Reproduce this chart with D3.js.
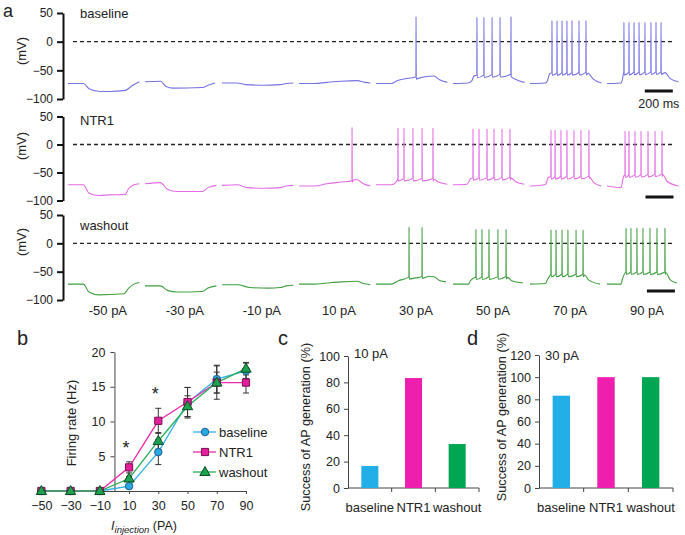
<!DOCTYPE html>
<html><head><meta charset="utf-8">
<script src="https://cdn.jsdelivr.net/npm/d3@7"></script>
<style>
body{margin:0;background:#fff}
text{font-family:"Liberation Sans",Arial,sans-serif;fill:#222}
</style>
</head><body>
<svg id="fig" width="685" height="535"></svg>
<script>
// ---------------- DATA ----------------
const sweepLabels = ["-50 pA","-30 pA","-10 pA","10 pA","30 pA","50 pA","70 pA","90 pA"];
const conditionNames = ["baseline","NTR1","washout"];
const traceColors = ["#7572e4","#e46ce6","#3f9f3f"];
const mvTicks = [50,0,-50,-100];

// subthreshold key points per sweep: [time ms, mV]
const baselineSub = [
 [[0,-73],[110,-73],[150,-82],[230,-87],[300,-87],[410,-85],[457,-77],[510,-70]],
 [[0,-70],[110,-69],[150,-78],[200,-81],[410,-80],[450,-76],[500,-72]],
 [[0,-72],[110,-72],[170,-75],[300,-76],[415,-75],[460,-73],[510,-72]],
 [[0,-73],[110,-73],[200,-71],[300,-69],[415,-68],[470,-71],[510,-72]],
 [[0,-73],[110,-73],[150,-68],[200,-65],[280,-62],[300,-64],[415,-60],[450,-66],[510,-71]],
 [[0,-73],[110,-72],[135,-68],[150,-60],[415,-58],[450,-66],[510,-71]],
 [[0,-73],[110,-72],[125,-68],[140,-56],[415,-55],[450,-65],[510,-72]],
 [[0,-73],[100,-72],[110,-66],[118,-55],[415,-54],[450,-64],[510,-70]]
];
const baselineSpikes = [[],[],[],[],[286],[171,221,279,336,414],[157,193,229,264,300,350,400],[121,157,193,229,271,314,350,386]];
const baselinePeaks = [0,0,0,0,44,43,37,34];

const ntr1Sub = [
 [[0,-72],[110,-72],[150,-87],[220,-91],[300,-90],[410,-89],[430,-80],[470,-72],[510,-70]],
 [[0,-70],[110,-68],[160,-80],[230,-84],[410,-84],[450,-77],[510,-73]],
 [[0,-73],[110,-72],[180,-77],[300,-78],[415,-77],[460,-74],[510,-73]],
 [[0,-74],[110,-74],[200,-70],[300,-67],[375,-65],[390,-63],[415,-63],[460,-70],[510,-74]],
 [[0,-72],[110,-72],[140,-68],[155,-62],[415,-62],[445,-67],[510,-71]],
 [[0,-72],[100,-71],[125,-61],[415,-60],[450,-67],[510,-71]],
 [[0,-74],[110,-72],[130,-59],[425,-58],[455,-68],[510,-74]],
 [[0,-74],[100,-77],[120,-56],[400,-54],[430,-66],[510,-74]]
];
const ntr1Spikes = [[],[],[],[379],[157,200,264,329,407],[143,186,243,293,350,407],[150,179,221,264,314,364,421],[129,157,200,243,293,343,393]];
const ntr1Peaks = [0,0,0,31,30,28,26,24];

const washoutSub = [
 [[0,-72],[110,-72],[150,-86],[220,-91],[400,-89],[430,-80],[470,-72],[510,-69]],
 [[0,-75],[110,-75],[160,-83],[230,-86],[410,-85],[450,-79],[510,-75]],
 [[0,-73],[110,-73],[200,-78],[330,-79],[415,-78],[460,-75],[510,-74]],
 [[0,-72],[110,-72],[200,-70],[300,-68],[415,-67],[460,-71],[510,-73]],
 [[0,-72],[110,-72],[160,-66],[230,-60],[280,-61],[325,-59],[380,-58],[415,-59],[450,-65],[500,-68]],
 [[0,-72],[110,-72],[125,-66],[150,-61],[390,-60],[420,-66],[500,-70]],
 [[0,-72],[110,-71],[125,-64],[145,-56],[390,-56],[420,-65],[500,-72]],
 [[0,-72],[100,-72],[110,-63],[130,-52],[421,-52],[450,-64],[500,-70]]
];
const washoutSpikes = [[],[],[],[],[236,329],[164,207,257,321,379],[150,186,229,271,329,379],[136,171,214,257,307,357,414]];
const washoutPeaks = [0,0,0,0,29,25,24,27];

// panel b
const injection = [-50,-30,-10,10,30,50,70,90];
const rateBaseline = [0,0,0,0.7,5.6,12.7,16.1,17.3];
const rateNTR1 = [0,0,0,3.4,10.1,12.8,15.6,15.6];
const rateWashout = [0,0,0,1.8,7.2,12.2,15.6,17.6];
const errBaseline = [0,0,0,0.3,1.8,2.2,2.0,1.1];
const errNTR1 = [0,0,0,0.8,1.8,2.1,2.4,1.5];
const errWashout = [0,0,0,0.3,1.2,1.5,1.5,0.9];
const rateTicks = [5,10,15,20];
const starAt = [10,30];

// panels c, d
const barCategories = ["baseline","NTR1","washout"];
const success10pA = [16.7,83.3,33.3];
const success30pA = [83.3,100,100];
const ticksC = [0,20,40,60,80,100];
const ticksD = [0,20,40,60,80,100,120];

// ---------------- DRAW ----------------
const svg = d3.select("#fig");
const FONT = '"Liberation Sans",Arial,sans-serif';

// ===== panel a =====
const sweepMs = 550;
const xT = d3.scaleLinear().domain([0, sweepMs*8]).range([68, 684]);
const rowRanges = [[99,13],[200.5,116.5],[300,215]];
const subs = [baselineSub, ntr1Sub, washoutSub];
const spikes = [baselineSpikes, ntr1Spikes, washoutSpikes];
const peaks = [baselinePeaks, ntr1Peaks, washoutPeaks];
const mvCenters = [51,146,242];
const nameBase = [18,125,230];
const barY = [91,197,291];
const barStart = [270,275,285];

function interp(sub, t){
  for(let i=0;i<sub.length-1;i++){
    const [t0,v0]=sub[i],[t1,v1]=sub[i+1];
    if(t>=t0 && t<=t1) return v0+(v1-v0)*(t-t0)/(t1-t0);
  }
  return sub[sub.length-1][1];
}

svg.append("text").attr("x",3).attr("y",17).style("font-size","18px").text("a");

rowRanges.forEach((rr, r) => {
  const y = d3.scaleLinear().domain([-100,50]).range(rr);
  const g = svg.append("g");
  const ax = g.append("g").attr("transform","translate(63,0)")
    .call(d3.axisLeft(y).tickValues(mvTicks).tickSize(6).tickSizeOuter(0).tickPadding(4));
  ax.select(".domain").attr("stroke","#111").attr("stroke-width",2);
  ax.selectAll(".tick line").attr("stroke","#111").attr("stroke-width",2);
  ax.selectAll(".tick text").style("font-size","12px").style("font-family",FONT).attr("fill","#222");
  g.append("text").attr("transform",`translate(26,${mvCenters[r]}) rotate(-90)`)
    .attr("text-anchor","middle").style("font-size","13px").text("(mV)");
  g.append("text").attr("x",80).attr("y",nameBase[r]).style("font-size","13px").text(conditionNames[r]);
  g.append("line").attr("x1",73).attr("x2",673).attr("y1",y(0)).attr("y2",y(0))
    .attr("stroke","#222").attr("stroke-width",1.3).attr("stroke-dasharray","4,3");
  const line = d3.line().x(d=>xT(d.t)).y(d=>y(d.v)).curve(d3.curveMonotoneX);
  subs[r].forEach((sub,k) => {
    const off = k*sweepMs;
    let pts = sub.map(([t,v])=>({t:t,v:v}));
    spikes[r][k].forEach(ts => {
      const b = interp(sub, ts);
      pts = pts.filter(p => p.t < ts-1 || p.t > ts+2);
      pts.push({t:ts-0.8,v:b+1.5},{t:ts,v:peaks[r][k]},{t:ts+1.4,v:b-3});
    });
    pts.sort((a,b)=>a.t-b.t);
    pts.forEach(p=>p.t+=off);
    g.append("path").attr("d",line(pts)).attr("fill","none")
      .attr("stroke",traceColors[r]).attr("stroke-width",1.1);
  });
  const s0 = 7*sweepMs + barStart[r];
  g.append("line").attr("x1",xT(s0)).attr("x2",xT(s0+200)).attr("y1",barY[r]).attr("y2",barY[r])
    .attr("stroke","#111").attr("stroke-width",3);
  if(r===0){
    g.append("text").attr("x",(xT(s0)+xT(s0+200))/2).attr("y",107.5).attr("text-anchor","middle")
      .style("font-size","12.5px").text("200 ms");
  }
});
svg.append("g").selectAll("text").data(sweepLabels).join("text")
  .attr("x",(d,k)=>xT(k*sweepMs+285)).attr("y",315).attr("text-anchor","middle")
  .style("font-size","13px").text(d=>d);

// ===== panel b =====
svg.append("text").attr("x",17).attr("y",345).style("font-size","20px").text("b");
const xB = d3.scaleLinear().domain([-53,90]).range([37,246]);
const yB = d3.scaleLinear().domain([0,20]).range([491,352]);
const gB = svg.append("g");
const axYB = gB.append("g").attr("transform",`translate(${xB(0)},0)`)
  .call(d3.axisLeft(yB).tickValues(rateTicks).tickSize(4).tickSizeOuter(0).tickPadding(5));
const axXB = gB.append("g").attr("transform",`translate(0,${yB(0)})`)
  .call(d3.axisBottom(xB).tickValues(injection).tickSize(3).tickSizeOuter(0).tickPadding(7));
[axYB,axXB].forEach(a=>{
  a.select(".domain").attr("stroke","#444");
  a.selectAll(".tick line").attr("stroke","#444");
  a.selectAll(".tick text").style("font-size","12.5px").style("font-family",FONT).attr("fill","#222");
});
gB.append("text").attr("transform","translate(76,423) rotate(-90)").attr("text-anchor","middle")
  .style("font-size","13px").text("Firing rate (Hz)");
const xt = gB.append("text").attr("x",144).attr("y",530).attr("text-anchor","middle").style("font-size","12.5px");
xt.append("tspan").style("font-style","italic").text("I");
xt.append("tspan").style("font-style","italic").style("font-size","9.5px").attr("dy",3).text("injection");
xt.append("tspan").attr("dy",-3).text(" (PA)");

const seriesB = [
  {name:"baseline", vals:rateBaseline, err:errBaseline, line:"#2fb0e6", fill:"#2aa8e0", stroke:"#1b5f8e", shape:"circle"},
  {name:"NTR1", vals:rateNTR1, err:errNTR1, line:"#ee2aa8", fill:"#e2209c", stroke:"#7c0f52", shape:"square"},
  {name:"washout", vals:rateWashout, err:errWashout, line:"#27ad5a", fill:"#1da34f", stroke:"#0b4a22", shape:"triangle"}
];
const lineB = d3.line().x((d,i)=>xB(injection[i])).y(d=>yB(d));
seriesB.forEach(s=>{
  gB.append("path").attr("d",lineB(s.vals)).attr("fill","none").attr("stroke",s.line).attr("stroke-width",1.3);
});
seriesB.forEach(s=>{
  s.vals.forEach((v,i)=>{
    const e = s.err[i]; if(!e) return;
    const x = xB(injection[i]);
    gB.append("path").attr("d",`M${x},${yB(v+e)}V${yB(v-e)}M${x-3},${yB(v+e)}H${x+3}M${x-3},${yB(v-e)}H${x+3}`)
      .attr("stroke","#333").attr("stroke-width",1).attr("fill","none");
  });
});
function marker(g, shape, x, y, fill, stroke){
  let sym;
  if(shape==="circle") sym = d3.symbol(d3.symbolCircle, 44);
  else if(shape==="square") sym = d3.symbol(d3.symbolSquare, 52);
  else sym = d3.symbol(d3.symbolTriangle, 46);
  g.append("path").attr("d",sym()).attr("transform",`translate(${x},${y + (shape==="triangle"?0.5:0)})`)
    .attr("fill",fill).attr("stroke",stroke).attr("stroke-width",1);
}
seriesB.forEach(s=>{
  s.vals.forEach((v,i)=>marker(gB, s.shape, xB(injection[i]), yB(v), s.fill, s.stroke));
});
starAt.forEach(c=>{
  const i = injection.indexOf(c);
  const top = yB(rateNTR1[i]+errNTR1[i]);
  gB.append("text").attr("x",xB(c)-3).attr("y",top-8).attr("text-anchor","middle")
    .style("font-size","18px").text("*");
});
seriesB.forEach((s,i)=>{
  const ly = 432 + i*20;
  gB.append("line").attr("x1",193).attr("x2",216).attr("y1",ly).attr("y2",ly).attr("stroke",s.line).attr("stroke-width",1.3);
  marker(gB, s.shape, 205, ly, s.fill, s.stroke);
  gB.append("text").attr("x",219).attr("y",ly+4.5).style("font-size","13px").text(s.name);
});

// ===== panels c & d =====
const barColors = ["#22aee6","#ee1eae","#00a651"];
function barPanel(opts){
  const g = svg.append("g");
  g.append("text").attr("x",opts.labelX).attr("y",345).style("font-size","20px").text(opts.letter);
  const x = d3.scaleBand().domain(barCategories).range([opts.x0,opts.x1]).paddingInner(0.61).paddingOuter(0.305);
  const y = d3.scaleLinear().domain([0,opts.max]).range([488,opts.yTop]);
  const ay = g.append("g").attr("transform",`translate(${opts.x0},0)`)
    .call(d3.axisLeft(y).tickValues(opts.ticks).tickSize(4).tickSizeOuter(0).tickPadding(4));
  ay.select(".domain").attr("stroke","#444");
  ay.selectAll(".tick line").attr("stroke","#444");
  ay.selectAll(".tick text").style("font-size","12.5px").style("font-family",FONT).attr("fill","#222");
  g.append("line").attr("x1",opts.x0).attr("x2",opts.x1).attr("y1",y(0)).attr("y2",y(0)).attr("stroke","#444");
  const step = x.step();
  [1,2,3].forEach(i=>{
    const bx = opts.x0 + i*step;
    g.append("line").attr("x1",bx).attr("x2",bx).attr("y1",y(0)).attr("y2",y(0)+4).attr("stroke","#444");
  });
  g.selectAll("rect").data(opts.vals).join("rect")
    .attr("x",(d,i)=>x(barCategories[i])).attr("width",x.bandwidth())
    .attr("y",d=>y(d)).attr("height",d=>y(0)-y(d)).attr("fill",(d,i)=>barColors[i]);
  g.selectAll(".cat").data(barCategories).join("text").attr("class","cat")
    .attr("x",d=>x(d)+x.bandwidth()/2).attr("y",512).attr("text-anchor","middle")
    .style("font-size","13px").text(d=>d);
  g.append("text").attr("transform",`translate(${opts.titleX},${opts.titleY}) rotate(-90)`)
    .attr("text-anchor","middle").style("font-size","12.7px").text("Success of AP generation (%)");
  g.append("text").attr("x",opts.x0+6).attr("y",opts.noteY).style("font-size","13px").text(opts.note);
}
barPanel({letter:"c", labelX:278, x0:348, x1:479, max:100, yTop:356, ticks:ticksC, vals:success10pA,
  titleX:310, titleY:427, note:"10 pA", noteY:358});
barPanel({letter:"d", labelX:467, x0:539, x1:673, max:120, yTop:355, ticks:ticksD, vals:success30pA,
  titleX:506, titleY:417, note:"30 pA", noteY:360});
</script>
</body></html>
